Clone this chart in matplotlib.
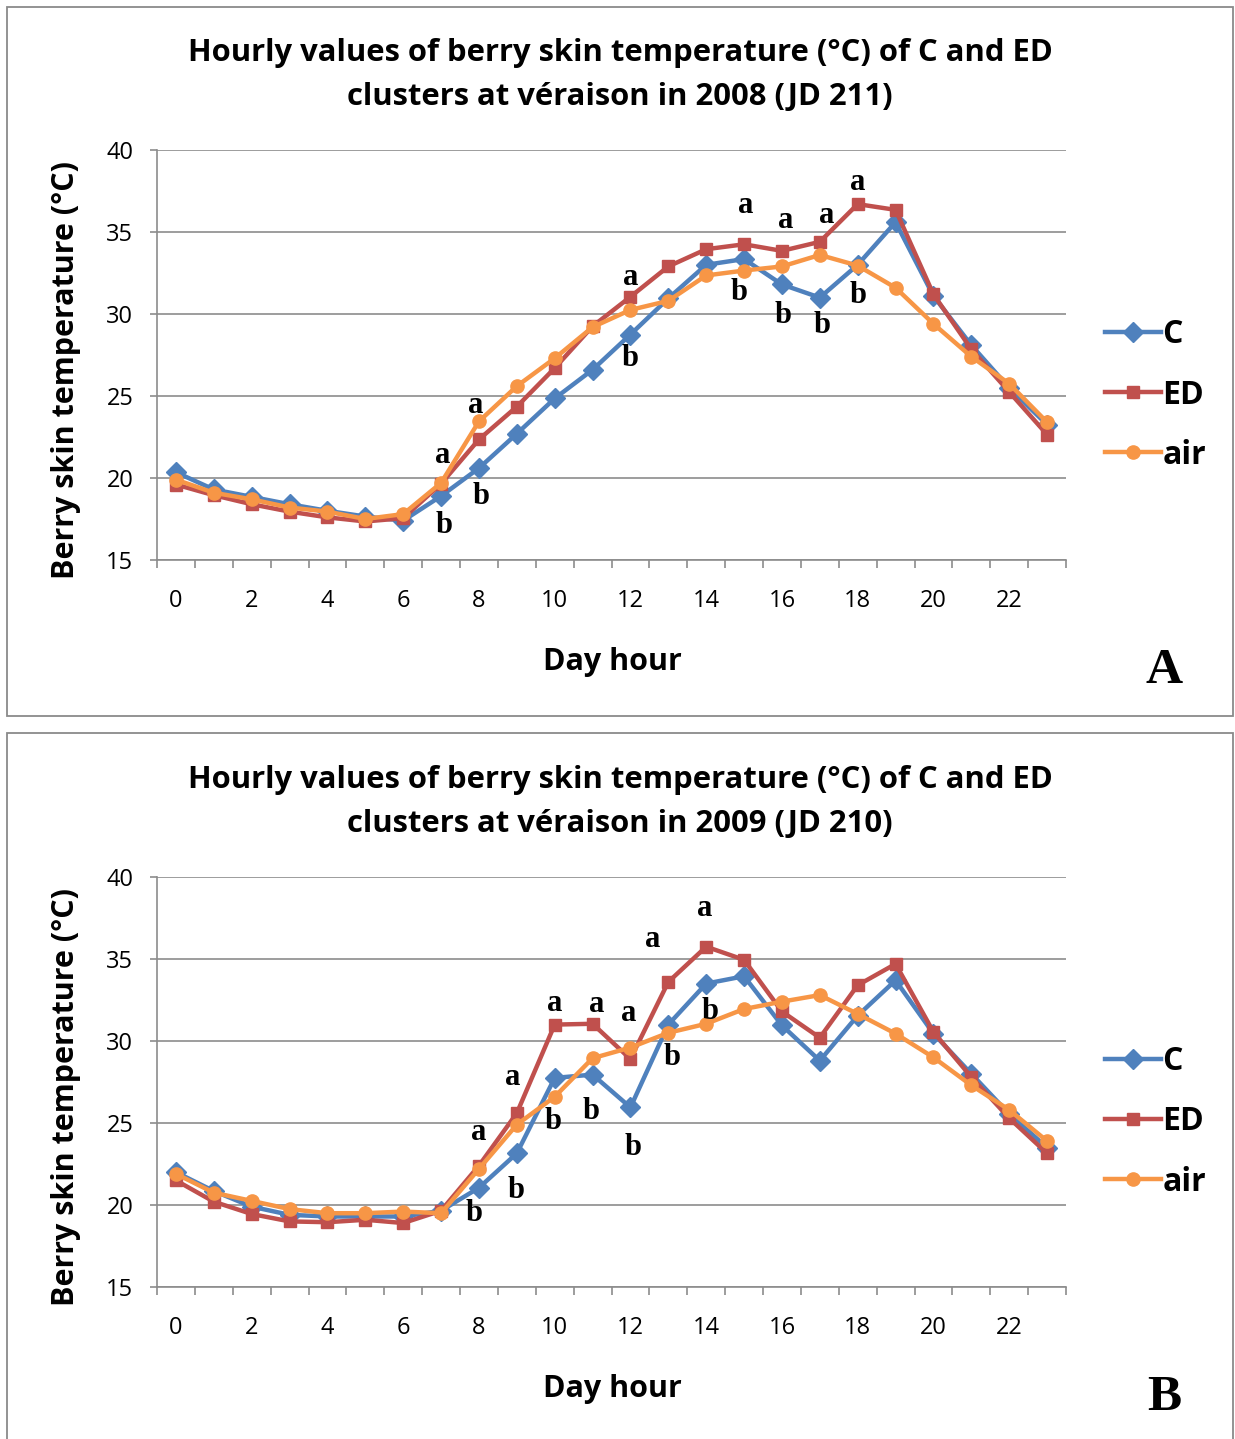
import numpy as np
import matplotlib
matplotlib.use('Agg')
import matplotlib.pyplot as plt
from matplotlib.patches import Rectangle

plt.rcParams['font.family'] = ['Open Sans', 'DejaVu Sans']

hours = list(range(24))

# JD 211, 2008
c_2008 = [20.35, 19.3, 18.85, 18.4, 18.0, 17.65, 17.4, 18.9, 20.6, 22.7, 24.85, 26.6,
          28.75, 30.95, 33.0, 33.35, 31.8, 31.0, 33.0, 35.6, 31.1, 28.1, 25.5, 23.25]
ed_2008 = [19.6, 18.95, 18.4, 17.95, 17.6, 17.35, 17.55, 19.65, 22.35, 24.35, 26.7, 29.25,
           31.05, 32.9, 33.95, 34.25, 33.85, 34.4, 36.7, 36.35, 31.2, 27.85, 25.25, 22.65]
air_2008 = [19.9, 19.1, 18.7, 18.2, 17.95, 17.5, 17.8, 19.7, 23.45, 25.6, 27.3, 29.2,
            30.25, 30.8, 32.35, 32.65, 32.9, 33.6, 32.95, 31.6, 29.4, 27.4, 25.75, 23.4]
letters_2008 = [(7.05, 21.4, 'a'), (7.08, 17.1, 'b'), (7.92, 24.45, 'a'), (8.06, 18.85, 'b'),
                (12.0, 32.25, 'a'), (12.0, 27.3, 'b'), (15.05, 36.6, 'a'), (14.87, 31.3, 'b'),
                (16.1, 35.7, 'a'), (16.03, 29.9, 'b'), (17.17, 36.0, 'a'), (17.06, 29.3, 'b'),
                (18.0, 38.0, 'a'), (18.0, 31.1, 'b')]

# JD 210, 2009
c_2009 = [22.0, 20.85, 19.9, 19.4, 19.3, 19.3, 19.3, 19.65, 21.05, 23.15, 27.75, 27.95,
          25.95, 31.0, 33.5, 33.95, 30.95, 28.8, 31.55, 33.7, 30.45, 28.0, 25.55, 23.5]
ed_2009 = [21.5, 20.2, 19.45, 19.0, 18.95, 19.1, 18.9, 19.65, 22.4, 25.6, 31.0, 31.05,
           28.9, 33.6, 35.75, 34.95, 31.8, 30.2, 33.4, 34.7, 30.55, 27.8, 25.3, 23.15]
air_2009 = [21.9, 20.75, 20.25, 19.75, 19.5, 19.5, 19.6, 19.5, 22.2, 24.9, 26.6, 28.95,
            29.6, 30.5, 31.05, 31.95, 32.4, 32.8, 31.65, 30.45, 29.0, 27.3, 25.8, 23.9]
letters_2009 = [(8.0, 24.4, 'a'), (7.87, 19.5, 'b'), (8.9, 27.8, 'a'), (8.98, 20.9, 'b'),
                (10.0, 32.3, 'a'), (9.96, 25.1, 'b'), (11.1, 32.2, 'a'), (10.96, 25.7, 'b'),
                (11.96, 31.7, 'a'), (12.07, 23.5, 'b'), (12.6, 36.2, 'a'), (13.1, 29.0, 'b'),
                (13.95, 38.05, 'a'), (14.1, 31.8, 'b')]

BLUE = '#4F81BD'
RED = '#C0504D'
ORANGE = '#F79646'
GRID = '#8C8C8C'

W, H = 1235, 1439
fig = plt.figure(figsize=(W / 100, H / 100), dpi=100)


def fx(px):
    return px / W


def fy(py):
    return 1 - py / H


def draw_panel(top, c, ed, air, letters, title, tag, box_top, box_bottom):
    fig.patches.append(Rectangle((fx(7), fy(box_bottom)), fx(1226), fy(box_top) - fy(box_bottom),
                                 transform=fig.transFigure, fill=False, ec='#8A8A8A', lw=1.3))
    ax = fig.add_axes([fx(157), fy(top + 410), fx(1066) - fx(157), fy(top) - fy(top + 410)])
    l1, = ax.plot(hours, c, color=BLUE, lw=3.2, marker='D', ms=10, label='C', zorder=3)
    l2, = ax.plot(hours, ed, color=RED, lw=3.2, marker='s', ms=9, label='ED', zorder=4)
    l3, = ax.plot(hours, air, color=ORANGE, lw=3.2, marker='o', ms=9.5, label='air', zorder=5)
    for x, y, s in letters:
        ax.text(x, y, s, ha='center', va='center', fontsize=22, fontweight='bold',
                family='Liberation Serif', zorder=6)

    ax.set_xlim(-0.5, 23.5)
    ax.set_ylim(15, 40)
    ax.set_yticks(range(15, 41, 5))
    ax.set_xticks(range(0, 24, 2))
    ax.set_xticks(np.arange(-0.5, 24, 1), minor=True)
    ax.yaxis.grid(True, color=GRID, lw=1.2)
    ax.set_axisbelow(True)
    for side in ('top', 'right'):
        ax.spines[side].set_visible(False)
    for side in ('left', 'bottom'):
        ax.spines[side].set_color(GRID)
        ax.spines[side].set_linewidth(1.2)
    ax.tick_params(axis='y', length=5, color=GRID, width=1.2, pad=12, labelsize=17)
    ax.tick_params(axis='x', which='major', length=0, pad=21, labelsize=17)
    ax.tick_params(axis='x', which='minor', length=6, color=GRID, width=1.2)

    fig.text(fx(620), fy(top - 75), title, ha='center', va='center', fontsize=22.3,
             fontweight='bold', linespacing=1.62)
    fig.text(fx(612), fy(top + 512), 'Day hour', ha='center', va='center', fontsize=22,
             fontweight='bold')
    fig.text(fx(66), fy(top + 220), 'Berry skin temperature (°C)', ha='center', va='center',
             fontsize=22, fontweight='bold', rotation=90)
    fig.text(fx(1164), fy(top + 521), tag, ha='center', va='center', fontsize=37,
             fontweight='bold', family='Liberation Serif')

    ax.legend(handles=[l1, l2, l3], loc='center left', bbox_to_anchor=(fx(1092), fy(top + 245)),
              bbox_transform=fig.transFigure, frameon=False, numpoints=1, handlelength=1.75,
              handletextpad=0.05, labelspacing=0.85, borderaxespad=0,
              prop={'size': 23, 'weight': 'bold'})
    return ax


draw_panel(150, c_2008, ed_2008, air_2008, letters_2008,
           'Hourly values of berry skin temperature (°C) of C and ED\n'
           'clusters at véraison in 2008 (JD 211)', 'A', 7, 716)
draw_panel(877, c_2009, ed_2009, air_2009, letters_2009,
           'Hourly values of berry skin temperature (°C) of C and ED\n'
           'clusters at véraison in 2009 (JD 210)', 'B', 733, 1460)

fig.savefig('out.png', dpi=100)
